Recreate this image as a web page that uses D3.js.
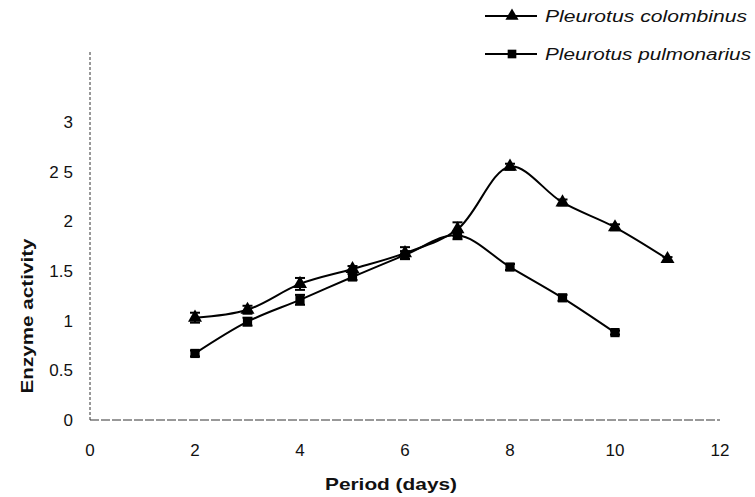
<!DOCTYPE html>
<html>
<head>
<meta charset="utf-8">
<script src="https://cdn.jsdelivr.net/npm/d3@7"></script>
<style>
  body { margin: 0; background: #fff; }
  text { font-family: "Liberation Sans", Arial, sans-serif; fill: #111; }
</style>
</head>
<body>
<svg id="chart" width="755" height="497"></svg>
<script>
// values
var days = [2, 3, 4, 5, 6, 7, 8, 9, 10, 11];
var colombinus = [1.03, 1.11, 1.37, 1.52, 1.68, 1.92, 2.55, 2.19, 1.94, 1.62];
var colombinusErr = [0.05, 0.04, 0.06, 0.03, 0.06, 0.07, 0.03, 0.03, 0.03, 0.02];
var pulmonarius = [0.67, 0.99, 1.21, 1.44, 1.66, 1.86, 1.54, 1.23, 0.88];
var pulmonariusErr = [0.03, 0.04, 0.05, 0.03, 0.04, 0.04, 0.03, 0.03, 0.02];
var xTicks = [0, 2, 4, 6, 8, 10, 12];
var yTicks = [0, 0.5, 1, 1.5, 2, 2.5, 3];
var yTickLabels = ["0", "0.5", "1", "1.5", "2", "2 5", "3"];
var seriesNames = ["Pleurotus colombinus", "Pleurotus pulmonarius"];

var svg = d3.select("#chart");

var x = d3.scaleLinear().domain([0, 12]).range([90, 720]);
var y = d3.scaleLinear().domain([0, 3]).range([420, 122]);

// axes (scanned look: thin broken lines)
svg.append("line")
  .attr("x1", x(0)).attr("x2", x(0))
  .attr("y1", y(0)).attr("y2", 52)
  .attr("stroke", "#333").attr("stroke-width", 1)
  .attr("stroke-dasharray", "3,2");
svg.append("line")
  .attr("x1", x(0)).attr("x2", x(12))
  .attr("y1", y(0)).attr("y2", y(0))
  .attr("stroke", "#333").attr("stroke-width", 1)
  .attr("stroke-dasharray", "9,2");

svg.selectAll(".ylab")
  .data(yTicks)
  .enter().append("text")
  .attr("class", "ylab")
  .attr("x", 73)
  .attr("y", function(d) { return y(d); })
  .attr("dy", "0.36em")
  .attr("text-anchor", "end")
  .style("font-size", "17px")
  .text(function(d, i) { return yTickLabels[i]; });

svg.selectAll(".xlab")
  .data(xTicks)
  .enter().append("text")
  .attr("class", "xlab")
  .attr("x", function(d) { return x(d); })
  .attr("y", 456)
  .attr("text-anchor", "middle")
  .style("font-size", "17px")
  .text(function(d) { return d; });

svg.append("text")
  .attr("transform", "translate(33,316) rotate(-90)")
  .attr("text-anchor", "middle")
  .attr("textLength", 155)
  .attr("lengthAdjust", "spacingAndGlyphs")
  .style("font-size", "17px")
  .style("font-weight", "bold")
  .text("Enzyme activity");

svg.append("text")
  .attr("x", 391).attr("y", 490)
  .attr("text-anchor", "middle")
  .attr("textLength", 132)
  .attr("lengthAdjust", "spacingAndGlyphs")
  .style("font-size", "17px")
  .style("font-weight", "bold")
  .text("Period (days)");

var line = d3.line()
  .x(function(d) { return x(d[0]); })
  .y(function(d) { return y(d[1]); })
  .curve(d3.curveCatmullRom.alpha(0.5));

function drawSeries(vals, errs, symbol) {
  var pts = vals.map(function(v, i) { return [days[i], v, errs[i]]; });
  var g = svg.append("g");
  g.append("path")
    .datum(pts)
    .attr("d", line)
    .attr("fill", "none")
    .attr("stroke", "#000")
    .attr("stroke-width", 2);
  var eb = g.selectAll(".err").data(pts).enter().append("g");
  eb.append("line")
    .attr("x1", function(d) { return x(d[0]); })
    .attr("x2", function(d) { return x(d[0]); })
    .attr("y1", function(d) { return y(d[1] - d[2]); })
    .attr("y2", function(d) { return y(d[1] + d[2]); })
    .attr("stroke", "#000").attr("stroke-width", 2);
  eb.append("line")
    .attr("x1", function(d) { return x(d[0]) - 5; })
    .attr("x2", function(d) { return x(d[0]) + 5; })
    .attr("y1", function(d) { return y(d[1] + d[2]); })
    .attr("y2", function(d) { return y(d[1] + d[2]); })
    .attr("stroke", "#000").attr("stroke-width", 2);
  eb.append("line")
    .attr("x1", function(d) { return x(d[0]) - 5; })
    .attr("x2", function(d) { return x(d[0]) + 5; })
    .attr("y1", function(d) { return y(d[1] - d[2]); })
    .attr("y2", function(d) { return y(d[1] - d[2]); })
    .attr("stroke", "#000").attr("stroke-width", 2);
  g.selectAll(".mk").data(pts).enter().append("path")
    .attr("d", d3.symbol().type(symbol).size(85))
    .attr("transform", function(d) { return "translate(" + x(d[0]) + "," + y(d[1]) + ")"; })
    .attr("fill", "#000");
}

drawSeries(colombinus, colombinusErr, d3.symbolTriangle);
drawSeries(pulmonarius, pulmonariusErr, d3.symbolSquare);

// legend
var legend = svg.append("g");
var legendRows = [
  { name: seriesNames[0], sym: d3.symbolTriangle, y: 16, len: 202 },
  { name: seriesNames[1], sym: d3.symbolSquare, y: 54, len: 206 }
];
legendRows.forEach(function(r) {
  legend.append("line")
    .attr("x1", 485).attr("x2", 537)
    .attr("y1", r.y).attr("y2", r.y)
    .attr("stroke", "#000").attr("stroke-width", 2);
  legend.append("path")
    .attr("d", d3.symbol().type(r.sym).size(75))
    .attr("transform", "translate(512," + r.y + ")")
    .attr("fill", "#000");
  legend.append("text")
    .attr("x", 545).attr("y", r.y + 6)
    .attr("textLength", r.len)
    .attr("lengthAdjust", "spacingAndGlyphs")
    .style("font-size", "16px")
    .style("font-style", "italic")
    .text(r.name);
});
</script>
</body>
</html>
